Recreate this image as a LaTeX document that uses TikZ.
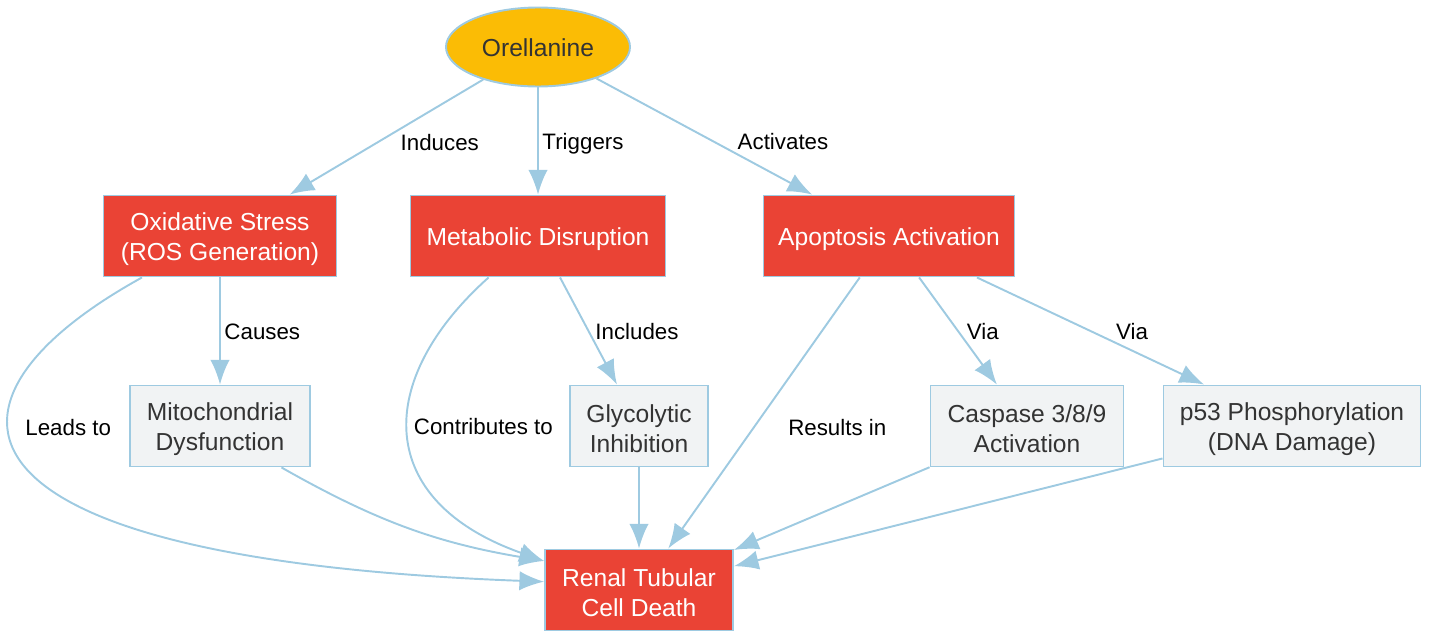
\documentclass[tikz,border=0pt]{standalone}
\usepackage{fontspec}
\setmainfont{Liberation Sans}
\usetikzlibrary{arrows.meta,positioning,shapes.geometric}
\definecolor{edgeblue}{HTML}{9ECAE1}
\definecolor{toxred}{HTML}{EA4335}
\definecolor{toxyellow}{HTML}{FBBC05}
\definecolor{boxgrey}{HTML}{F1F3F4}
\definecolor{txtdark}{HTML}{333333}

\begin{document}
\begin{tikzpicture}[>={Latex[length=14pt,width=11pt]},
		flow/.style={->,draw=edgeblue,line width=1.1pt},
		every edge/.append style={flow},
		base/.style={draw=edgeblue,line width=1.1pt,minimum height=1.62cm,align=center,
			text height=13.6pt,font=\fontsize{14}{17}\selectfont},
		twoline/.style={text height=30.6pt},
		redbox/.style={base,rectangle,fill=toxred,text=white},
		greybox/.style={base,rectangle,fill=boxgrey,text=txtdark,twoline},
		lbl/.style={inner sep=2pt,text height=12.4pt,text depth=2.6pt,
			font=\fontsize{12.7}{15}\selectfont,text=black}
		]
		\useasboundingbox (0,0) rectangle (28.58,12.6);
		
		\node[base,ellipse,fill=toxyellow,text=txtdark,text height=11pt,minimum width=3.68cm,minimum height=1.58cm] (ore) at (10.76,11.66) {Orellanine};
		
		\node[redbox,twoline,minimum width=4.66cm] (oxi) at (4.40,7.88) {Oxidative Stress\\(ROS Generation)};
		\node[redbox,minimum width=5.10cm] (metab) at (10.76,7.88) {Metabolic Disruption};
		\node[redbox,minimum width=5.02cm] (apop) at (17.78,7.88) {Apoptosis Activation};
		
		\node[greybox,minimum width=3.60cm] (mito) at (4.40,4.08) {Mitochondrial\\Dysfunction};
		\node[greybox,minimum width=2.76cm] (glyco) at (12.78,4.08) {Glycolytic\\Inhibition};
		\node[greybox,minimum width=3.86cm] (casp) at (20.54,4.08) {Caspase 3/8/9\\Activation};
		\node[greybox,minimum width=5.14cm] (p53) at (25.84,4.08) {p53 Phosphorylation\\(DNA Damage)};
		
		\node[redbox,twoline,minimum width=3.76cm] (renal) at (12.78,0.80) {Renal Tubular\\Cell Death};
		
		\path (ore) edge node[lbl,pos=0.54,right=10pt] (lInduces) {Induces} (oxi);
		\path (ore) edge node[lbl,pos=0.5,right=0pt] (lTriggers) {Triggers} (metab);
		\path (ore) edge node[lbl,pos=0.54,right=11.6pt] (lActivates) {Activates} (apop);
		
		\path (oxi) edge node[lbl,pos=0.5,right=0pt] (lCauses) {Causes} (mito);
		\draw[flow] (oxi.208) .. controls +(-4.46,-2.46) and +(-12.36,0.46) .. (renal.175)
			node[lbl,pos=0.39,right=7pt] (lLeads) {Leads to};
		
		\path (metab) edge node[lbl,pos=0.5,right=1.4pt] (lIncludes) {Includes} (glyco);
		\draw[flow] (metab.220) .. controls +(-2.3,-2.06) and +(-3.4,1.2) .. (renal.163)
			node[lbl,pos=0.47,right=0.5pt] (lContrib) {Contributes to};
		
		\path (apop) edge node[lbl,pos=0.55,right=16.7pt] (lResults) {Results in} (renal);
		\path (apop) edge node[lbl,pos=0.5,right=2.5pt] (lViaCasp) {Via} (casp);
		\path (apop) edge node[lbl,pos=0.5,right=12pt] (lViaP53) {Via} (p53);
		
		\path (mito.326) edge[bend right=10] (renal.163);
		\path (glyco) edge (renal);
		\path (casp) edge (renal);
		\path (p53) edge (renal);
	\end{tikzpicture}
\end{document}
